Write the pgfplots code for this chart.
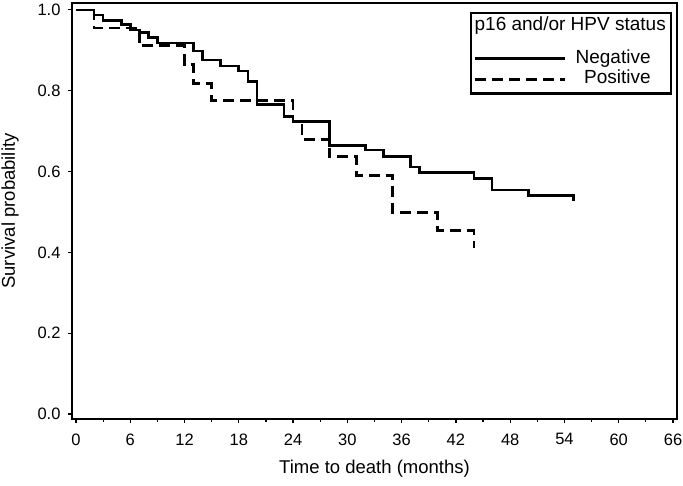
\documentclass[border=0pt]{standalone}
\usepackage{fontspec}
\setmainfont{Liberation Sans}
\usepackage{pgfplots}
\pgfplotsset{compat=1.18}

\begin{document}
\begin{tikzpicture}
\begin{axis}[
  name=ax,
  scale only axis,
  width=605pt, height=416pt,
  xmin=-0.44, xmax=66.44,
  ymin=-0.0124, ymax=1.017,
  xtick={0,6,...,66},
  minor x tick num=1,
  ytick={0,0.2,0.4,0.6,0.8,1.0},
  yticklabel style={/pgf/number format/fixed, /pgf/number format/fixed zerofill, /pgf/number format/precision=1},
  /pgf/number format/assume math mode=true,
  tick align=outside,
  tick pos=left,
  major tick length=4pt,
  minor tick length=3pt,
  every tick/.style={black, line width=1.2pt},
  axis line style={line width=2.6pt},
  tick label style={font=\fontsize{16.5}{19}\selectfont},
  xticklabel style={yshift=-7pt},
  yticklabel style={xshift=-4pt},
  xlabel={Time to death (months)},
  ylabel={Survival probability},
  every axis x label/.style={at={([yshift=-50pt]axis description cs:0.5,0)}, anchor=center, font=\fontsize{18.5}{22}\selectfont},
  every axis y label/.style={at={([xshift=-62pt]axis description cs:0,0.5)}, rotate=90, anchor=center, font=\fontsize{18.5}{22}\selectfont},
  legend style={at={(1,1)}, anchor=north east, xshift=-5pt, yshift=-9pt,
    draw=black, line width=2.4pt, font=\fontsize{19}{22}\selectfont,
    inner xsep=3pt, inner ysep=2pt, row sep=-2pt, column sep=4pt,
    nodes={inner sep=2pt, text depth=}},
  legend cell align=left,
  legend image code/.code={\draw[#1] (0pt,0pt) -- (90pt,0pt);},
]

\addlegendimage{empty legend}
\addlegendentry{\hspace{-98pt}p16 and/or HPV status\rule[-17pt]{0pt}{17pt}}

% Negative
\addplot[const plot, black, line width=2.7pt] coordinates {
  (0,1.000) (2,0.987) (3,0.973) (5,0.963) (6,0.950) (7,0.944) (8,0.932)
  (9,0.918) (13,0.898) (14,0.876) (16,0.861) (18,0.849) (19,0.822)
  (20,0.766) (23,0.736) (24,0.723) (28,0.665) (32,0.653) (34,0.637)
  (37,0.611) (38,0.598) (44,0.582) (46,0.554) (50,0.540) (55,0.540) (55,0.527)
};
\addlegendentry{\makebox[78pt][r]{Negative}}

% Positive
\addplot[const plot, black, line width=2.7pt, dash pattern=on 11pt off 6pt] coordinates {
  (0,1.000) (2,0.955) (7,0.912) (12,0.864) (13,0.818) (15,0.775)
  (24,0.724) (25,0.680) (28,0.637) (31,0.590) (35,0.498) (40,0.454)
  (44,0.454) (44,0.410)
};
\addlegendentry{\makebox[78pt][r]{Positive}\rule[-6pt]{0pt}{6pt}}

\end{axis}
\pgfresetboundingbox
\path ([shift={(-72pt,-67pt)}]ax.south west) rectangle ([shift={(611pt,419pt)}]ax.south west);
\end{tikzpicture}
\end{document}
